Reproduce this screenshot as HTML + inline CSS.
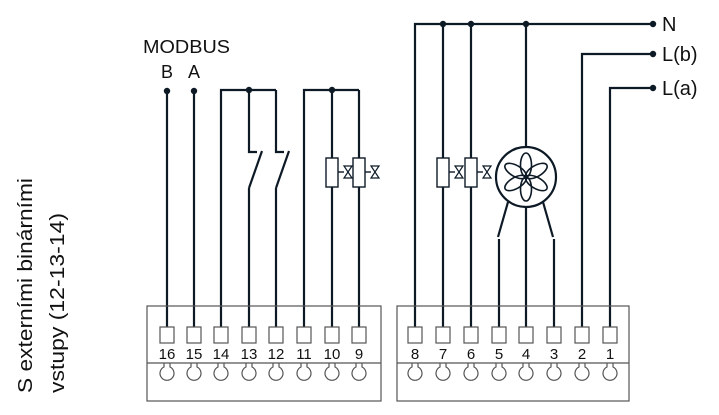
<!DOCTYPE html>
<html><head><meta charset="utf-8"><style>
html,body{margin:0;padding:0;background:#fff;}
svg{display:block;}
text{font-family:"Liberation Sans",Arial,sans-serif;fill:#111;}
</style></head><body>
<svg width="719" height="415" viewBox="0 0 719 415" xmlns="http://www.w3.org/2000/svg">
<g fill="none" stroke="#0d1a26" stroke-width="2.2">
<line x1="167" y1="91" x2="167" y2="327"/>
<line x1="194" y1="91" x2="194" y2="327"/>
<polyline points="221,327 221,90 276,90"/>
<polyline points="249,90 249,152 257,152"/>
<line x1="262" y1="151" x2="249" y2="188"/>
<line x1="249" y1="188" x2="249" y2="327"/>
<polyline points="276,90 276,152 284,152"/>
<line x1="289" y1="151" x2="276" y2="188"/>
<line x1="276" y1="188" x2="276" y2="327"/>
<polyline points="304,327 304,90 359,90"/>
<line x1="332" y1="90" x2="332" y2="327"/>
<line x1="359" y1="90" x2="359" y2="327"/>
<polyline points="415,327 415,24 653,24"/>
<line x1="443" y1="24" x2="443" y2="327"/>
<line x1="471" y1="24" x2="471" y2="327"/>
<line x1="526" y1="24" x2="526" y2="147"/>
<line x1="526" y1="207" x2="526" y2="327"/>
<polyline points="582,327 582,54 653,54"/>
<polyline points="610,327 610,88 653,88"/>
<circle cx="526" cy="177" r="30"/>
<line x1="508" y1="202" x2="498" y2="237"/>
<line x1="543" y1="202" x2="553" y2="237"/>
<line x1="499" y1="239" x2="499" y2="327"/>
<line x1="554" y1="239" x2="554" y2="327"/>
</g>
<g fill="none" stroke="#0d1a26" stroke-width="1.6">
<ellipse cx="526" cy="165" rx="5.5" ry="12"/>
<ellipse cx="526" cy="165" rx="5.5" ry="12" transform="rotate(60 526 177)"/>
<ellipse cx="526" cy="165" rx="5.5" ry="12" transform="rotate(120 526 177)"/>
<ellipse cx="526" cy="165" rx="5.5" ry="12" transform="rotate(180 526 177)"/>
<ellipse cx="526" cy="165" rx="5.5" ry="12" transform="rotate(240 526 177)"/>
<ellipse cx="526" cy="165" rx="5.5" ry="12" transform="rotate(300 526 177)"/>
</g>
<g stroke="#0d1a26" stroke-width="1.4" fill="#fff">
<g id="v1">
<rect x="326" y="158" width="12" height="29"/>
<line x1="338" y1="172" x2="344" y2="172"/>
<path d="M344,166 L352,166 L344,178 L352,178 Z" fill="#fff" stroke-width="1.2"/>
</g>
<use href="#v1" x="27"/>
<use href="#v1" x="111"/>
<use href="#v1" x="139"/>
</g>
<g fill="#0d1a26">
<circle cx="167" cy="91" r="3.2"/><circle cx="194" cy="91" r="3.2"/>
<circle cx="249" cy="90" r="3.2"/><circle cx="332" cy="90" r="3.2"/>
<circle cx="443" cy="24" r="3.2"/><circle cx="471" cy="24" r="3.2"/><circle cx="526" cy="24" r="3.2"/>
<circle cx="653" cy="24" r="3.2"/><circle cx="653" cy="54" r="3.2"/><circle cx="653" cy="88" r="3.2"/>
</g>
<g fill="none" stroke="#555" stroke-width="1.2">
<rect x="147" y="306" width="234" height="95"/>
<line x1="147" y1="363" x2="381" y2="363"/>
<rect x="397" y="306" width="232" height="95"/>
<line x1="397" y1="363" x2="629" y2="363"/>
</g>
<g fill="#fff" stroke="#555" stroke-width="1.2">
<rect x="160" y="327" width="14" height="16"/><rect x="187" y="327" width="14" height="16"/>
<rect x="214" y="327" width="14" height="16"/><rect x="242" y="327" width="14" height="16"/>
<rect x="269" y="327" width="14" height="16"/><rect x="297" y="327" width="14" height="16"/>
<rect x="325" y="327" width="14" height="16"/><rect x="352" y="327" width="14" height="16"/>
<rect x="408" y="327" width="14" height="16"/><rect x="436" y="327" width="14" height="16"/>
<rect x="464" y="327" width="14" height="16"/><rect x="492" y="327" width="14" height="16"/>
<rect x="519" y="327" width="14" height="16"/><rect x="547" y="327" width="14" height="16"/>
<rect x="575" y="327" width="14" height="16"/><rect x="603" y="327" width="14" height="16"/>
</g>
<g fill="none" stroke="#555" stroke-width="1.2">
<path id="c1" d="M164,363 v4 a7,7 0 1 0 6,0 v-4"/>
<use href="#c1" x="27"/><use href="#c1" x="54"/><use href="#c1" x="82"/><use href="#c1" x="109"/>
<use href="#c1" x="137"/><use href="#c1" x="165"/><use href="#c1" x="192"/>
<use href="#c1" x="248"/><use href="#c1" x="276"/><use href="#c1" x="304"/><use href="#c1" x="332"/>
<use href="#c1" x="359"/><use href="#c1" x="387"/><use href="#c1" x="415"/><use href="#c1" x="443"/>
</g>
<g font-size="15" text-anchor="middle" style="fill:#1a2a3a">
<text x="167" y="359">16</text><text x="194" y="359">15</text><text x="221" y="359">14</text>
<text x="249" y="359">13</text><text x="276" y="359">12</text><text x="304" y="359">11</text>
<text x="332" y="359">10</text><text x="359" y="359">9</text>
<text x="415" y="359">8</text><text x="443" y="359">7</text><text x="471" y="359">6</text>
<text x="499" y="359">5</text><text x="526" y="359">4</text><text x="554" y="359">3</text>
<text x="582" y="359">2</text><text x="610" y="359">1</text>
</g>
<text x="143" y="53" font-size="18" textLength="87" lengthAdjust="spacingAndGlyphs">MODBUS</text>
<text x="167" y="78" font-size="18" text-anchor="middle">B</text>
<text x="194" y="78" font-size="18" text-anchor="middle">A</text>
<text x="662" y="31" font-size="20">N</text>
<text x="662" y="61" font-size="20">L(b)</text>
<text x="662" y="95" font-size="20">L(a)</text>
<text transform="translate(32,393) rotate(-90)" font-size="20" textLength="215" lengthAdjust="spacingAndGlyphs">S externími binárními</text>
<text transform="translate(64,393) rotate(-90)" font-size="20" textLength="180" lengthAdjust="spacingAndGlyphs">vstupy (12-13-14)</text>
</svg>
</body></html>
